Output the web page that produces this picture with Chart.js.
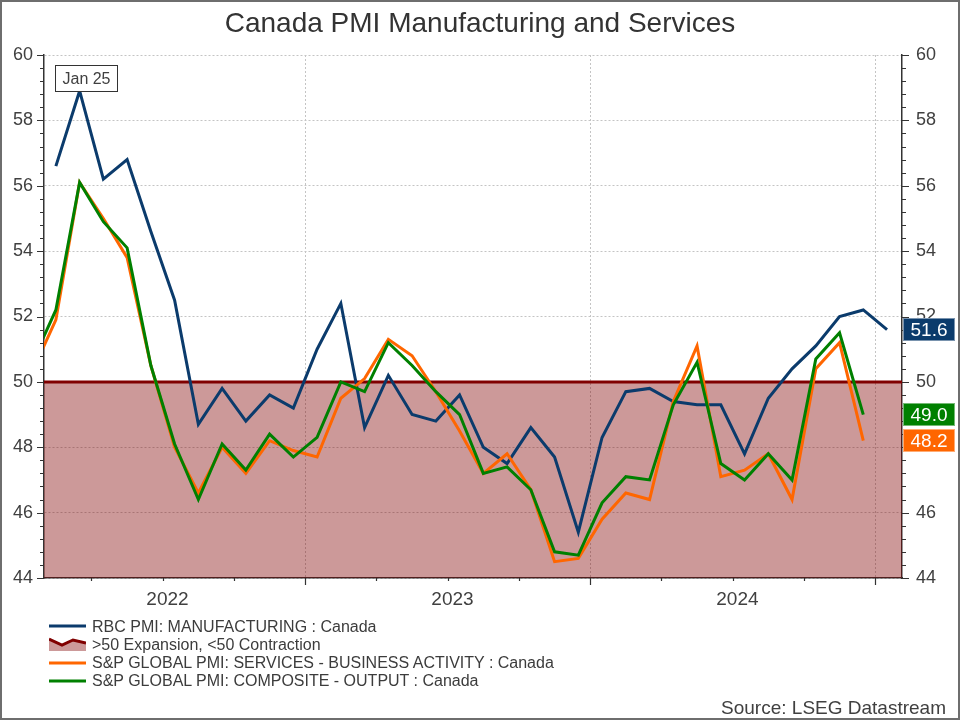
<!DOCTYPE html>
<html lang="en">
<head>
    <meta charset="UTF-8">
    <title>Canada PMI Manufacturing and Services</title>
    <script src="https://cdn.jsdelivr.net/npm/chart.js@4.4.1/dist/chart.umd.min.js"></script>
    <style>
        body {
            margin: 0;
            background: #fff;
            font-family: 'Liberation Sans', Arial, sans-serif;
        }
        .frame {
            position: relative;
            width: 960px;
            height: 720px;
            overflow: hidden;
        }
        .frame canvas {
            position: absolute;
            left: 0;
            top: 0;
        }
        .border {
            position: absolute;
            left: 0;
            top: 0;
            width: 960px;
            height: 720px;
            box-sizing: border-box;
            border: 2px solid #6e6e6e;
            pointer-events: none;
        }
        .title {
            position: absolute;
            left: 0;
            top: 9px;
            width: 960px;
            text-align: center;
            font-size: 28px;
            line-height: 28px;
            color: #333;
        }
        .legend {
            position: absolute;
            left: 49px;
            top: 618px;
        }
        .legend-row {
            display: flex;
            align-items: center;
            height: 18px;
            font-size: 16px;
            line-height: 18px;
            color: #3c3c3c;
            white-space: nowrap;
        }
        .legend-row svg {
            flex: none;
            width: 37px;
            height: 18px;
            margin-right: 6px;
        }
        .source {
            position: absolute;
            right: 14px;
            top: 698px;
            font-size: 19px;
            line-height: 19px;
            color: #404040;
        }
    </style>
</head>
<body>
    <div class="frame">
        <canvas id="pmiChart" width="960" height="720"></canvas>
        <div class="title">Canada PMI Manufacturing and Services</div>
        <div class="legend" id="legend"></div>
        <div class="source">Source: LSEG Datastream</div>
        <div class="border"></div>
    </div>

    <script>
        // monthly readings, Jul 2021 .. Jul 2024
        const months = [
            'Jul 2021', 'Aug 2021', 'Sep 2021', 'Oct 2021', 'Nov 2021', 'Dec 2021',
            'Jan 2022', 'Feb 2022', 'Mar 2022', 'Apr 2022', 'May 2022', 'Jun 2022',
            'Jul 2022', 'Aug 2022', 'Sep 2022', 'Oct 2022', 'Nov 2022', 'Dec 2022',
            'Jan 2023', 'Feb 2023', 'Mar 2023', 'Apr 2023', 'May 2023', 'Jun 2023',
            'Jul 2023', 'Aug 2023', 'Sep 2023', 'Oct 2023', 'Nov 2023', 'Dec 2023',
            'Jan 2024', 'Feb 2024', 'Mar 2024', 'Apr 2024', 'May 2024', 'Jun 2024',
            'Jul 2024'
        ];

        const rbcManufacturing = [
            null, 56.6, 58.9, 56.2, 56.8, 54.6,
            52.5, 48.7, 49.8, 48.8, 49.6, 49.2,
            51.0, 52.4, 48.6, 50.2, 49.0, 48.8,
            49.6, 48.0, 47.5, 48.6, 47.7, 45.4,
            48.3, 49.7, 49.8, 49.4, 49.3, 49.3,
            47.8, 49.5, 50.4, 51.1, 52.0, 52.2,
            51.6
        ];

        const spServices = [
            50.3, 51.9, 56.1, 55.0, 53.8, 50.5,
            48.0, 46.6, 48.0, 47.2, 48.2, 47.9,
            47.7, 49.5, 50.1, 51.3, 50.8, 49.7,
            48.5, 47.2, 47.8, 46.7, 44.5, 44.6,
            45.8, 46.6, 46.4, 49.4, 51.1, 47.1,
            47.3, 47.8, 46.4, 50.4, 51.2, 48.2,
            null
        ];

        const spComposite = [
            50.6, 52.2, 56.1, 54.9, 54.1, 50.5,
            48.1, 46.4, 48.1, 47.3, 48.4, 47.7,
            48.3, 50.0, 49.7, 51.2, 50.5, 49.7,
            49.0, 47.2, 47.4, 46.7, 44.8, 44.7,
            46.3, 47.1, 47.0, 49.3, 50.6, 47.5,
            47.0, 47.8, 47.0, 50.7, 51.5, 49.0,
            null
        ];

        const threshold = 50;
        const yearLabels = ['2022', '2023', '2024'];
        const peakNote = 'Jan 25';

        const seriesNames = {
            rbc: 'RBC PMI: MANUFACTURING : Canada',
            zone: '>50 Expansion, <50 Contraction',
            services: 'S&P GLOBAL PMI: SERVICES - BUSINESS ACTIVITY : Canada',
            composite: 'S&P GLOBAL PMI: COMPOSITE - OUTPUT : Canada'
        };

        // styling
        const NAVY = '#0b3b6c';
        const ORANGE = '#ff6600';
        const GREEN = '#008000';
        const MAROON = '#800000';
        const ZONE_FILL = 'rgba(128, 0, 0, 0.4)';
        const GRID = '#c4c4c4';
        const AXIS = '#333333';
        const TICK_TEXT = '#404040';

        const Y_MIN = 44, Y_MAX = 60, Y_STEP = 2, MINOR_PER_STEP = 5;
        const X_MIN = 0.5, X_MAX = 36.63;

        Chart.defaults.font.family = "'Liberation Sans', Arial, sans-serif";

        // quarter boundaries sit between months; July ones carry the grid line
        const xTicks = [];
        months.forEach((m, i) => {
            const mon = m.slice(0, 3);
            if (i > 0 && ['Jan', 'Apr', 'Jul', 'Oct'].includes(mon)) {
                xTicks.push({ value: i - 0.5, major: mon === 'Jul' });
            }
        });
        const yearTicks = yearLabels.map(yr => ({
            value: months.indexOf('Jan ' + yr) - 0.3,
            label: yr
        }));

        function toPoints(values) {
            return values.map((v, i) => ({ x: i, y: v }));
        }

        function isMajorX(value) {
            return xTicks.some(t => t.major && Math.abs(t.value - value) < 1e-6);
        }

        function yearAt(value) {
            const t = yearTicks.find(t => Math.abs(t.value - value) < 1e-6);
            return t ? t.label : '';
        }

        // tick marks, value tags on the right axis, and the peak note
        const chartExtras = {
            id: 'chartExtras',
            afterDraw(chart) {
                const { ctx, chartArea: a } = chart;
                const x = chart.scales.x, y = chart.scales.y;

                ctx.save();
                ctx.strokeStyle = AXIS;
                ctx.lineWidth = 1.2;
                ctx.beginPath();
                const minorCount = (Y_MAX - Y_MIN) / Y_STEP * MINOR_PER_STEP;
                for (let k = 0; k <= minorCount; k++) {
                    const v = Y_MIN + k * Y_STEP / MINOR_PER_STEP;
                    const py = Math.round(y.getPixelForValue(v)) + 0.5;
                    const len = k % MINOR_PER_STEP === 0 ? 7 : 4;
                    ctx.moveTo(a.left - len, py);
                    ctx.lineTo(a.left, py);
                    ctx.moveTo(a.right, py);
                    ctx.lineTo(a.right + len, py);
                }
                xTicks.forEach(t => {
                    const px = Math.round(x.getPixelForValue(t.value)) + 0.5;
                    ctx.moveTo(px, a.bottom);
                    ctx.lineTo(px, a.bottom + (t.major ? 7 : 3));
                });
                ctx.stroke();

                // last-value tags
                const tags = [
                    { values: rbcManufacturing, color: NAVY },
                    { values: spComposite, color: GREEN },
                    { values: spServices, color: ORANGE }
                ].map(s => {
                    const last = s.values.filter(v => v !== null).slice(-1)[0];
                    return { value: last, color: s.color, py: y.getPixelForValue(last) };
                }).sort((p, q) => p.py - q.py);

                const h = 23, w = 52;
                for (let i = 1; i < tags.length; i++) {
                    if (tags[i].py - tags[i - 1].py < h + 1) {
                        tags[i].py = tags[i - 1].py + h + 1;
                    }
                }
                ctx.font = "19px 'Liberation Sans', Arial, sans-serif";
                ctx.textAlign = 'center';
                ctx.textBaseline = 'middle';
                tags.forEach(t => {
                    const left = a.right + 1, top = Math.round(t.py - h / 2);
                    ctx.fillStyle = t.color;
                    ctx.fillRect(left, top, w, h);
                    ctx.strokeStyle = 'rgba(255,255,255,0.45)';
                    ctx.lineWidth = 1;
                    ctx.strokeRect(left + 0.5, top + 0.5, w - 1, h - 1);
                    ctx.fillStyle = '#ffffff';
                    ctx.fillText(t.value.toFixed(1), left + w / 2, top + h / 2 + 1);
                });

                // note over the manufacturing peak
                const peak = Math.max(...rbcManufacturing.filter(v => v !== null));
                const pi = rbcManufacturing.indexOf(peak);
                const px = x.getPixelForValue(pi), py = y.getPixelForValue(peak);
                const nw = 62, nh = 26;
                const nl = Math.round(px - 25) + 0.5, nt = Math.round(py - nh) + 0.5;
                ctx.fillStyle = '#ffffff';
                ctx.fillRect(nl, nt, nw, nh);
                ctx.strokeStyle = AXIS;
                ctx.strokeRect(nl, nt, nw, nh);
                ctx.fillStyle = TICK_TEXT;
                ctx.font = "16px 'Liberation Sans', Arial, sans-serif";
                ctx.fillText(peakNote, nl + nw / 2, nt + nh / 2 + 1);
                ctx.restore();
            }
        };

        const lineStyle = {
            borderWidth: 3,
            pointRadius: 0,
            pointHoverRadius: 0,
            tension: 0,
            fill: false,
            clip: 0,
            yAxisID: 'y'
        };

        new Chart(document.getElementById('pmiChart'), {
            type: 'line',
            data: {
                datasets: [
                    {
                        ...lineStyle,
                        label: seriesNames.composite,
                        data: toPoints(spComposite),
                        borderColor: GREEN,
                        order: 1
                    },
                    {
                        ...lineStyle,
                        label: seriesNames.services,
                        data: toPoints(spServices),
                        borderColor: ORANGE,
                        order: 2
                    },
                    {
                        ...lineStyle,
                        label: seriesNames.rbc,
                        data: toPoints(rbcManufacturing),
                        borderColor: NAVY,
                        order: 3
                    },
                    {
                        ...lineStyle,
                        label: seriesNames.zone,
                        data: [{ x: X_MIN, y: threshold }, { x: X_MAX, y: threshold }],
                        borderColor: MAROON,
                        backgroundColor: ZONE_FILL,
                        fill: 'start',
                        order: 4
                    }
                ]
            },
            options: {
                responsive: false,
                animation: false,
                events: [],
                layout: { padding: { top: 55, left: 0, right: 0, bottom: 0 } },
                plugins: {
                    legend: { display: false },
                    tooltip: { enabled: false }
                },
                scales: {
                    x: {
                        type: 'linear',
                        min: X_MIN,
                        max: X_MAX,
                        afterBuildTicks(scale) {
                            scale.ticks = xTicks.concat(yearTicks).map(t => ({ value: t.value }));
                        },
                        afterFit(scale) { scale.height = 142; },
                        ticks: {
                            autoSkip: false,
                            maxRotation: 0,
                            padding: 10,
                            color: TICK_TEXT,
                            font: { size: 19 },
                            callback: value => yearAt(value)
                        },
                        grid: {
                            drawTicks: false,
                            color: ctx => (ctx.tick && isMajorX(ctx.tick.value)) ? GRID : 'rgba(0,0,0,0)'
                        },
                        border: { color: AXIS, width: 1.5, dash: [2, 2] }
                    },
                    y: {
                        position: 'left',
                        min: Y_MIN,
                        max: Y_MAX,
                        afterFit(scale) { scale.width = 44; },
                        ticks: { stepSize: Y_STEP, padding: 11, color: TICK_TEXT, font: { size: 18 } },
                        grid: { drawTicks: false, color: GRID },
                        border: { color: AXIS, width: 1.5, dash: [2, 2] }
                    },
                    y2: {
                        position: 'right',
                        min: Y_MIN,
                        max: Y_MAX,
                        afterFit(scale) { scale.width = 58; },
                        ticks: { stepSize: Y_STEP, padding: 14, color: TICK_TEXT, font: { size: 18 } },
                        grid: { drawTicks: false, drawOnChartArea: false },
                        border: { color: AXIS, width: 1.5 }
                    }
                }
            },
            plugins: [chartExtras]
        });

        // legend below the plot
        const legendItems = [
            { name: seriesNames.rbc, icon: `<line x1="0" y1="8" x2="37" y2="8" stroke="${NAVY}" stroke-width="3"/>` },
            { name: seriesNames.zone, icon: `<polygon points="0,3 13,9 24,4 37,7 37,15 0,15" fill="${ZONE_FILL}"/>` +
                `<polyline points="0,3 13,9 24,4 37,7" fill="none" stroke="${MAROON}" stroke-width="3"/>` },
            { name: seriesNames.services, icon: `<line x1="0" y1="9" x2="37" y2="9" stroke="${ORANGE}" stroke-width="3"/>` },
            { name: seriesNames.composite, icon: `<line x1="0" y1="9" x2="37" y2="9" stroke="${GREEN}" stroke-width="3"/>` }
        ];
        const legend = document.getElementById('legend');
        legendItems.forEach(item => {
            const row = document.createElement('div');
            row.className = 'legend-row';
            row.innerHTML = `<svg viewBox="0 0 37 18">${item.icon}</svg>`;
            row.appendChild(document.createTextNode(item.name));
            legend.appendChild(row);
        });
    </script>
</body>
</html>
